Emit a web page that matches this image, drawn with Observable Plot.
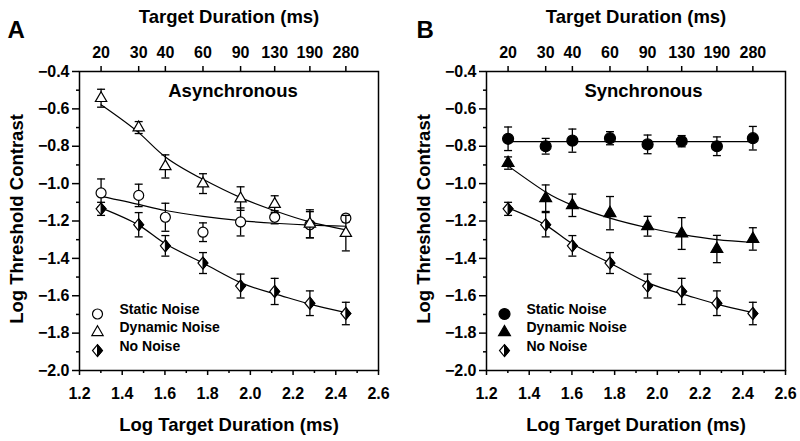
<!DOCTYPE html>
<html><head><meta charset="utf-8">
<script src="https://cdn.jsdelivr.net/npm/d3@7"></script>
<script src="https://cdn.jsdelivr.net/npm/@observablehq/plot@0.6"></script>
<style>body{margin:0;background:#fff}#wrap{display:flex;width:800px;height:441px}</style>
</head><body><div id="wrap"></div>
<script>
// ---- data ----
const durations = [20, 30, 40, 60, 90, 130, 190, 280];
const yMajorTicks = [-2.0, -1.8, -1.6, -1.4, -1.2, -1.0, -0.8, -0.6, -0.4];
const yMinorTicks = [-1.9, -1.7, -1.5, -1.3, -1.1, -0.9, -0.7, -0.5];
const xMajorTicks = [1.2, 1.4, 1.6, 1.8, 2.0, 2.2, 2.4, 2.6];
const xMinorTicks = [1.3, 1.5, 1.7, 1.9, 2.1, 2.3, 2.5];
const legendLabels = ["Static Noise", "Dynamic Noise", "No Noise"];
const panelLetters = ["A", "B"];
const conditions = ["Asynchronous", "Synchronous"];
const topTitle = "Target Duration (ms)";
const xTitle = "Log Target Duration (ms)";
const yTitle = "Log Threshold Contrast";

// Panel A (asynchronous)
const staticA    = [-1.05, -1.063, -1.18, -1.26, -1.205, -1.18, -1.22, -1.185];
const staticAErr = [0.075, 0.06, 0.075, 0.05, 0.075, 0.035, 0.07, 0.02];
const staticAFit = [-1.068, -1.111, -1.144, -1.175, -1.198, -1.212, -1.222, -1.228];
const dynA       = [-0.543, -0.70, -0.908, -1.00, -1.08, -1.11, -1.215, -1.265];
const dynAErr    = [0.048, 0.032, 0.062, 0.053, 0.063, 0.045, 0.075, 0.095];
const dynAFit    = [-0.578, -0.727, -0.857, -0.977, -1.075, -1.145, -1.205, -1.248];
// No noise (same in both panels)
const noNoise    = [-1.135, -1.22, -1.333, -1.425, -1.548, -1.577, -1.64, -1.695];
const noNoiseErr = [0.035, 0.065, 0.055, 0.056, 0.064, 0.07, 0.066, 0.06];
const noNoiseFit = [-1.13, -1.222, -1.322, -1.425, -1.53, -1.59, -1.645, -1.69];
// Panel B (synchronous)
const staticB    = [-0.76, -0.80, -0.77, -0.757, -0.79, -0.773, -0.80, -0.757];
const staticBErr = [0.063, 0.042, 0.062, 0.035, 0.05, 0.03, 0.05, 0.063];
const staticBFit = [-0.775, -0.775, -0.775, -0.775, -0.775, -0.775, -0.775, -0.775];
const dynB       = [-0.89, -1.078, -1.116, -1.158, -1.228, -1.267, -1.35, -1.296];
const dynBErr    = [0.033, 0.071, 0.06, 0.089, 0.053, 0.085, 0.073, 0.06];
const dynBFit    = [-0.905, -1.045, -1.115, -1.185, -1.236, -1.272, -1.30, -1.315];

// ---- symbols ----
const diamondFull = {draw(ctx, size) {const s = Math.sqrt(size), h = s * 0.68, w = s * 0.56;
  ctx.moveTo(0, -h); ctx.lineTo(w, 0); ctx.lineTo(0, h); ctx.lineTo(-w, 0); ctx.closePath();}};
const diamondRight = {draw(ctx, size) {const s = Math.sqrt(size), h = s * 0.68, w = s * 0.56;
  ctx.moveTo(0, -h); ctx.lineTo(w, 0); ctx.lineTo(0, h); ctx.closePath();}};
const capSym = {draw(ctx) {ctx.moveTo(-4, 0); ctx.lineTo(4, 0);}};

const FONT = "'Liberation Sans', Arial, Helvetica, sans-serif";

function rowsOf(values, err, fit) {
  return durations.map((d, i) => ({x: Math.log10(d), v: values[i], e: err[i], f: fit[i]}));
}

function seriesMarks(rows, st) {
  const m = [
    Plot.line(rows, {x: "x", y: "f", curve: "natural", stroke: "black", strokeWidth: 1.2}),
    Plot.ruleX(rows, {x: "x", y1: r => r.v - r.e, y2: r => r.v + r.e, stroke: "black", strokeWidth: 1.3}),
    Plot.dot(rows, {x: "x", y: r => r.v - r.e, symbol: capSym, r: 3, fill: "none", stroke: "black", strokeWidth: 1.3}),
    Plot.dot(rows, {x: "x", y: r => r.v + r.e, symbol: capSym, r: 3, fill: "none", stroke: "black", strokeWidth: 1.3}),
    Plot.dot(rows, {x: "x", y: "v", symbol: st.symbol, r: st.r, fill: st.fill, stroke: "black", strokeWidth: 1.2})
  ];
  if (st.half) m.push(Plot.dot(rows, {x: "x", y: "v", symbol: diamondRight, r: st.r, fill: "black", stroke: "black", strokeWidth: 1}));
  return m;
}

function legendMarks(styles) {
  const m = [];
  styles.forEach((st, i) => {
    const dy = -56.5 + i * 18.3;
    m.push(Plot.dot([0], {frameAnchor: "bottom-left", dx: 18, dy, symbol: st.symbol, r: st.r, fill: st.fill, stroke: "black", strokeWidth: 1.2}));
    if (st.half) m.push(Plot.dot([0], {frameAnchor: "bottom-left", dx: 18, dy, symbol: diamondRight, r: st.r, fill: "black", stroke: "black", strokeWidth: 1}));
    m.push(Plot.text([legendLabels[i]], {frameAnchor: "bottom-left", dx: 40, dy, text: d => d, textAnchor: "start", fontSize: 14, fontWeight: "bold", fill: "black"}));
  });
  return m;
}

function panel(cfg) {
  const styles = cfg.styles;
  const marks = [];
  cfg.series.forEach((s, i) => marks.push(...seriesMarks(rowsOf(s[0], s[1], s[2]), styles[i])));
  marks.push(...legendMarks(styles));
  marks.push(
    Plot.frame({stroke: "black", strokeWidth: 1.5}),
    Plot.axisY(yMajorTicks, {tickSize: 7, tickPadding: 3, tickFormat: d3.format(".1f"), fontSize: 16, label: null, strokeWidth: 1.5}),
    Plot.axisY(yMinorTicks, {tickSize: 3, tickFormat: () => "", label: null, strokeWidth: 1.5}),
    Plot.axisX(xMajorTicks, {anchor: "bottom", tickSize: 5, tickPadding: 12, tickFormat: d3.format(".1f"), fontSize: 16, label: null, strokeWidth: 1.5}),
    Plot.axisX(xMinorTicks, {anchor: "bottom", tickSize: 3, tickFormat: () => "", label: null, strokeWidth: 1.5}),
    Plot.axisX(durations.map(Math.log10), {anchor: "top", tickSize: 6, tickPadding: 8, tickFormat: d => String(Math.round(10 ** d)), fontSize: 16, label: null, strokeWidth: 1.5}),
    Plot.text([topTitle], {frameAnchor: "top", dy: -49, lineAnchor: "bottom", fontSize: 18.5, fontWeight: "bold", fill: "black"}),
    Plot.text([xTitle], {frameAnchor: "bottom", dy: 60, lineAnchor: "bottom", fontSize: 18.5, fontWeight: "bold", fill: "black"}),
    Plot.text([yTitle], {frameAnchor: "left", textAnchor: "middle", rotate: -90, dx: cfg.ylabDx, dy: -2, fontSize: 18.5, fontWeight: "bold", fill: "black"}),
    Plot.text([cfg.letter], {frameAnchor: "top-left", dx: cfg.letterDx, dy: -34, textAnchor: "start", lineAnchor: "bottom", fontSize: 24, fontWeight: "bold", fill: "black"}),
    Plot.text([cfg.condition], {frameAnchor: "top", dx: cfg.condDx, dy: 25.7, lineAnchor: "bottom", fontSize: 18.5, fontWeight: "bold", fill: "black"})
  );
  return Plot.plot({
    width: 400, height: 441,
    marginLeft: cfg.ml, marginRight: cfg.mr, marginTop: 71, marginBottom: 71,
    x: {domain: [1.2, 2.6]},
    y: {domain: [-2.0, -0.4]},
    style: {fontFamily: FONT, fontWeight: "bold", color: "black", background: "white", overflow: "visible"},
    marks
  });
}

const stylesA = [
  {symbol: "circle", r: 5, fill: "white"},
  {symbol: "triangle", r: 4.2, fill: "white"},
  {symbol: diamondFull, r: 5, fill: "white", half: true}
];
const stylesB = [
  {symbol: "circle", r: 5.5, fill: "black"},
  {symbol: "triangle", r: 4.4, fill: "black"},
  {symbol: diamondFull, r: 5, fill: "white", half: true}
];

const wrap = document.getElementById("wrap");
wrap.append(panel({
  letter: panelLetters[0], condition: conditions[0], ml: 79, mr: 22, condDx: 4, letterDx: -72, ylabDx: -62,
  styles: stylesA,
  series: [[staticA, staticAErr, staticAFit], [dynA, dynAErr, dynAFit], [noNoise, noNoiseErr, noNoiseFit]]
}));
wrap.append(panel({
  letter: panelLetters[1], condition: conditions[1], ml: 86, mr: 15, condDx: 7.5, letterDx: -70, ylabDx: -62,
  styles: stylesB,
  series: [[staticB, staticBErr, staticBFit], [dynB, dynBErr, dynBFit], [noNoise, noNoiseErr, noNoiseFit]]
}));
</script>
</body></html>
